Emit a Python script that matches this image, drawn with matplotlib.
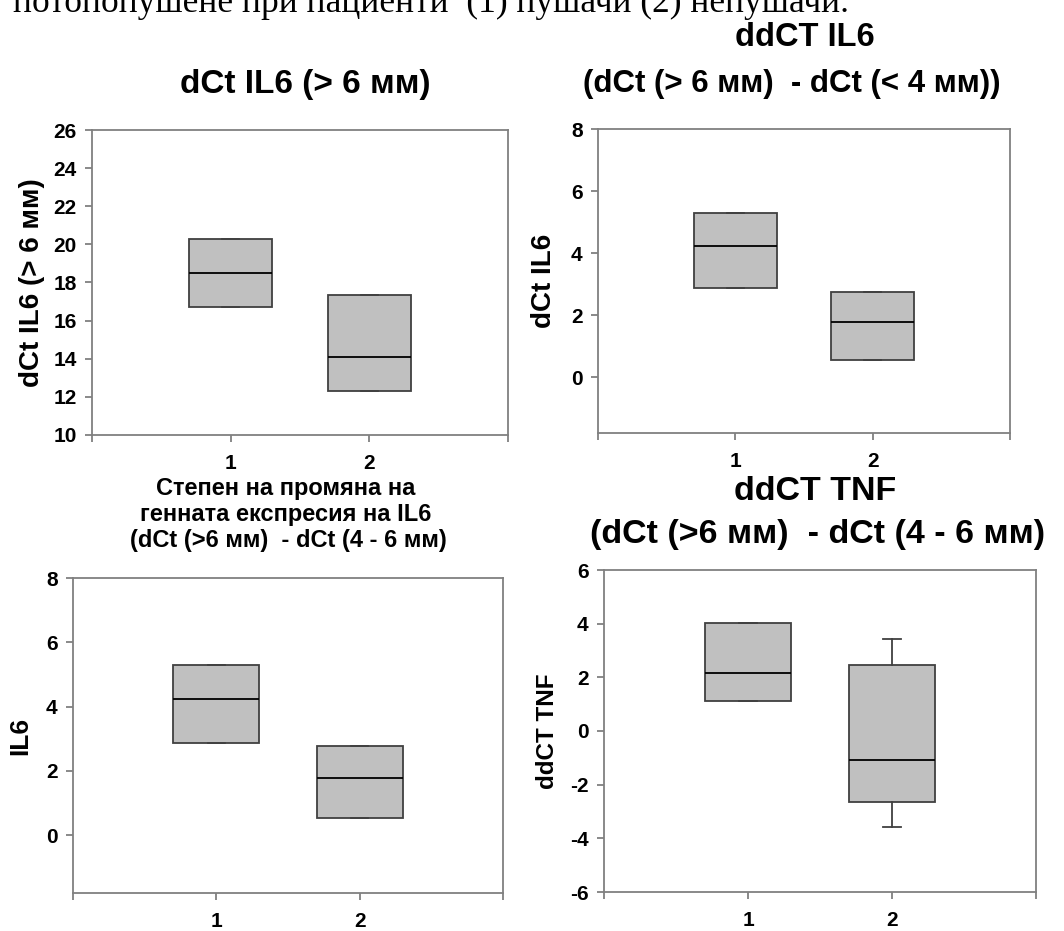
import matplotlib
matplotlib.use("Agg")
from matplotlib import pyplot as plt

plt.rcParams['font.family'] = ['Liberation Sans', 'DejaVu Sans']
plt.rcParams['font.weight'] = 'bold'

groups = [1, 2]
group_labels = ["1", "2"]

# dCt IL6 (> 6 mm)
il6_gt6_q1 = [16.70, 12.32]
il6_gt6_med = [18.48, 14.07]
il6_gt6_q3 = [20.28, 17.33]

# ddCT IL6 (> 6 mm vs < 4 mm)
il6_lt4_q1 = [2.87, 0.54]
il6_lt4_med = [4.23, 1.78]
il6_lt4_q3 = [5.30, 2.76]

# ddCT IL6 (> 6 mm vs 4 - 6 mm)
il6_46_q1 = [2.87, 0.54]
il6_46_med = [4.24, 1.78]
il6_46_q3 = [5.30, 2.77]

# ddCT TNF (> 6 mm vs 4 - 6 mm)
tnf_q1 = [1.13, -2.64]
tnf_med = [2.15, -1.07]
tnf_q3 = [4.02, 2.47]
tnf_lo = [1.13, -3.56]
tnf_hi = [4.02, 3.43]

AXIS_GRAY = '#808080'
BOX_FILL = '#c0c0c0'
BOX_EDGE = '#404040'


def make_stats(q1, med, q3, lo=None, hi=None):
    if lo is None:
        lo = q1
    if hi is None:
        hi = q3
    stats = []
    for i in range(len(q1)):
        stats.append({'q1': q1[i], 'med': med[i], 'q3': q3[i],
                      'whislo': lo[i], 'whishi': hi[i], 'fliers': []})
    return stats


def draw_box(ax, stats, ylim, yticks, ylabel, label_size):
    ax.bxp(stats, positions=groups, widths=0.6, patch_artist=True,
           showfliers=False, capwidths=0.12,
           boxprops=dict(facecolor=BOX_FILL, edgecolor=BOX_EDGE, linewidth=1.3),
           medianprops=dict(color='black', linewidth=1.3),
           whiskerprops=dict(color=BOX_EDGE, linewidth=1.3),
           capprops=dict(color=BOX_EDGE, linewidth=1.3))
    ax.set_xlim(0, 3)
    ax.set_ylim(*ylim)
    ax.set_xticks([0, 1, 2, 3])
    ax.set_xticklabels([""] + group_labels + [""])
    ax.set_yticks(yticks)
    ax.set_yticklabels([str(t) for t in yticks])
    for sp in ax.spines.values():
        sp.set_color(AXIS_GRAY)
        sp.set_linewidth(1.3)
    ax.tick_params(axis='both', colors=AXIS_GRAY, length=5, width=1.3,
                   labelcolor='black', labelsize=15)
    ax.tick_params(axis='x', pad=9)
    ax.tick_params(axis='y', pad=6)
    for lab in ax.get_xticklabels() + ax.get_yticklabels():
        lab.set_fontweight('bold')
    ax.set_ylabel(ylabel, fontsize=label_size, fontweight='bold')


fig = plt.figure(figsize=(10.64, 9.31), dpi=100)
W, H = 1064.0, 931.0


def px_axes(left, top, right, bottom):
    return fig.add_axes([left / W, 1 - bottom / H, (right - left) / W, (bottom - top) / H])


ax1 = px_axes(92, 130, 508, 435)
draw_box(ax1, make_stats(il6_gt6_q1, il6_gt6_med, il6_gt6_q3),
         (10, 26), list(range(10, 27, 2)), "dCt IL6 (> 6 мм)", 20)

ax2 = px_axes(598, 129, 1010, 433)
draw_box(ax2, make_stats(il6_lt4_q1, il6_lt4_med, il6_lt4_q3),
         (-1.8, 8), [0, 2, 4, 6, 8], "dCt IL6", 20)

ax3 = px_axes(73, 578, 503, 893)
draw_box(ax3, make_stats(il6_46_q1, il6_46_med, il6_46_q3),
         (-1.8, 8), [0, 2, 4, 6, 8], "IL6", 19)

ax4 = px_axes(604, 570, 1036, 892)
draw_box(ax4, make_stats(tnf_q1, tnf_med, tnf_q3, tnf_lo, tnf_hi),
         (-6, 6), [-6, -4, -2, 0, 2, 4, 6], "ddCT TNF", 17.5)

# y-label positions in pixels
for ax, x_px, left_px, width_px in [(ax1, 32, 92, 416), (ax2, 544, 598, 412),
                                     (ax3, 20, 73, 430), (ax4, 548, 604, 432)]:
    ax.yaxis.set_label_coords((x_px - left_px) / width_px, 0.5)
    ax.yaxis.label.set_verticalalignment('center')

# panel titles
fig.text(305 / W, 1 - 85 / H, "dCt IL6 (> 6 мм)", ha='center', va='center',
         fontsize=24, fontweight='bold')
fig.text(805 / W, 1 - 38 / H, "ddCT IL6", ha='center', va='center',
         fontsize=23.5, fontweight='bold')
fig.text(792 / W, 1 - 84 / H, "(dCt (> 6 мм)  - dCt (< 4 мм))", ha='center',
         va='center', fontsize=22.5, fontweight='bold')
fig.text(286 / W, 1 - 488 / H, "Степен на промяна на", ha='center', va='center',
         fontsize=17, fontweight='bold')
fig.text(286 / W, 1 - 514 / H, "генната експресия на IL6", ha='center', va='center',
         fontsize=17, fontweight='bold')
fig.text(288 / W, 1 - 540 / H, "(dCt (>6 мм)  - dCt (4 - 6 мм)", ha='center',
         va='center', fontsize=17, fontweight='bold')
fig.text(815 / W, 1 - 492 / H, "ddCT TNF", ha='center', va='center',
         fontsize=24.5, fontweight='bold')
fig.text(818 / W, 1 - 535 / H, "(dCt (>6 мм)  - dCt (4 - 6 мм)", ha='center',
         va='center', fontsize=24.5, fontweight='bold')

# caption line of the page, running off the top edge
fig.text(13 / W, 1 - 12 / H, "потопопушене при пациенти  (1) пушачи (2) непушачи.",
         ha='left', va='baseline', fontsize=25.5, fontweight='normal',
         family='Liberation Serif')

fig.savefig("out.png", dpi=100)
